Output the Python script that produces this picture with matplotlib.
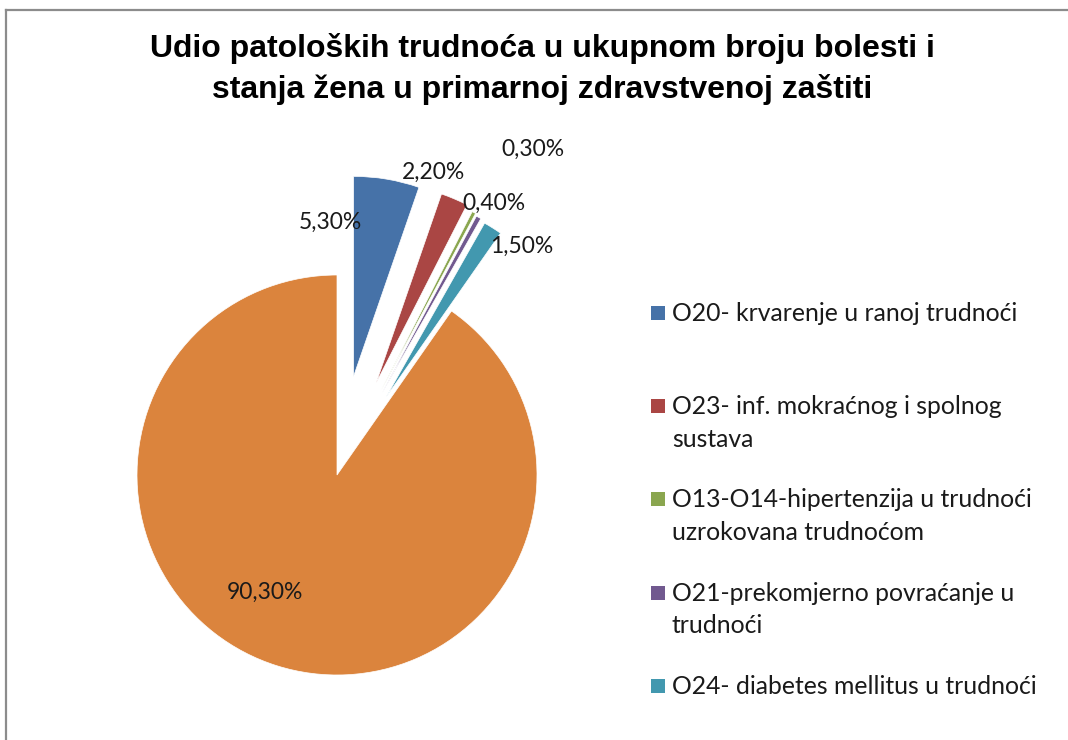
import numpy as np
import matplotlib
matplotlib.use("Agg")
import matplotlib.pyplot as plt
from matplotlib.patches import Rectangle
from matplotlib.lines import Line2D

# data
categories = [
    "O20- krvarenje u ranoj trudnoći",
    "O23- inf. mokraćnog i spolnog\nsustava",
    "O13-O14-hipertenzija u trudnoći\nuzrokovana trudnoćom",
    "O21-prekomjerno povraćanje u\ntrudnoći",
    "O24- diabetes mellitus u trudnoći",
    "Ostalo",
]
values = [5.3, 2.2, 0.3, 0.4, 1.5, 90.3]
value_labels = ["5,30%", "2,20%", "0,30%", "0,40%", "1,50%", "90,30%"]
colors = ["#4672A8", "#AA4644", "#8AA64F", "#71598F", "#4298AF", "#DB843D"]
title = "Udio patoloških trudnoća u ukupnom broju bolesti i\nstanja žena u primarnoj zdravstvenoj zaštiti"

# label placement (radius, angle in degrees) relative to pie centre
label_r = [1.265, 1.59, 1.90, 1.57, 1.47, 0.69]
label_ang = [91.6, 72.4, 58.9, 60.0, 51.1, 238.3]

W, H = 1068, 740
fig = plt.figure(figsize=(W / 100, H / 100), dpi=100)

# pie axes: 600x600 px box, 200 px per data unit
ax = fig.add_axes([100 / W, 20 / H, 600 / W, 600 / H])
cx, cy = 337, 475

explode = [0.5, 0.5, 0.48, 0.47, 0.46, 0]
wedges, _ = ax.pie(values, colors=colors, startangle=90, counterclock=False,
                   explode=explode, radius=1.0, center=(0, 0),
                   wedgeprops=dict(edgecolor="white", linewidth=0.5))
ax.set_xlim(-(cx - 100) / 200, (700 - cx) / 200)
ax.set_ylim(-(720 - cy) / 200, (cy - 120) / 200)
ax.set_aspect("equal")
ax.axis("off")

for txt, r, a in zip(value_labels, label_r, label_ang):
    t = np.deg2rad(a)
    ax.text(r * np.cos(t), r * np.sin(t), txt, ha="center", va="center",
            fontsize=16.5, family="Lato", color="#1a1a1a")

fig.text(542 / W, 1 - 69 / H, title, ha="center", va="center", fontsize=23,
         fontweight="bold", family="Liberation Sans", linespacing=1.38)

# legend (first five categories)
y0, dy = 313, 93.2
for i in range(5):
    y = y0 + i * dy
    fig.patches.append(Rectangle((651 / W, 1 - (y + 7) / H), 14 / W, 14 / H,
                                 transform=fig.transFigure,
                                 facecolor=colors[i], edgecolor="none"))
    fig.text(672 / W, 1 - (y - 11) / H, categories[i], ha="left", va="top",
             fontsize=17.8, family="Lato", color="#1a1a1a", linespacing=1.5)

# chart border
fig.add_artist(Line2D([6 / W, 6 / W], [0, 1 - 10 / H], transform=fig.transFigure,
                      color="#8c8c8c", linewidth=1.6))
fig.add_artist(Line2D([6 / W, 1], [1 - 10 / H, 1 - 10 / H], transform=fig.transFigure,
                      color="#8c8c8c", linewidth=1.6))

fig.savefig("out.png", dpi=100)
